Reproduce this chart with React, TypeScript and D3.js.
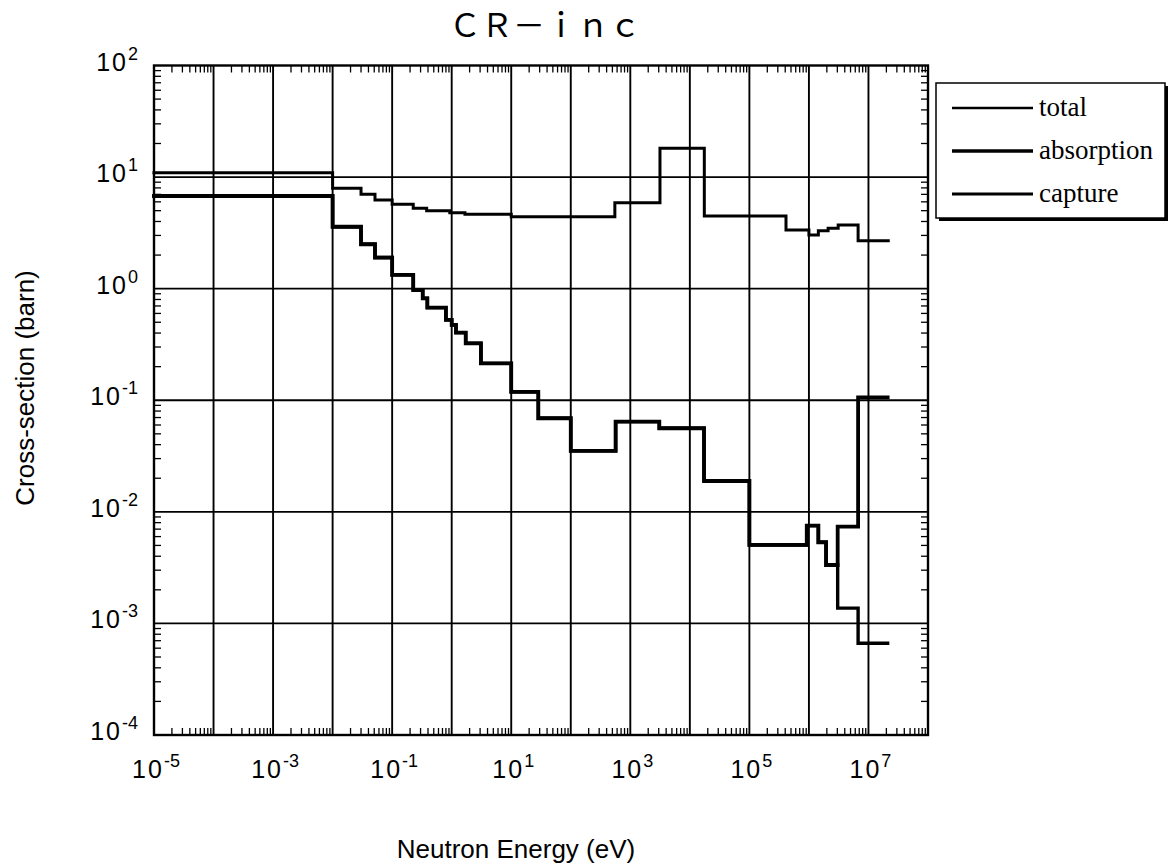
import React from 'react';
import * as d3 from 'd3';

// Group-wise cross sections (barn) as step functions over neutron energy (eV).
// Each series: bin edges (n+1) and the value held across each bin (n).
const totalEdges = [1e-5, 1e-2, 0.03, 0.0515, 0.1, 0.226, 0.38, 0.93, 1.67, 10, 550, 3150, 17500, 4.12e5, 1e6, 1.44e6, 2.1e6, 3.1e6, 6.7e6, 2.15e7];
const totalValues = [10.95, 7.94, 7.0, 6.23, 5.7, 5.25, 5.0, 4.8, 4.64, 4.42, 5.9, 18.1, 4.48, 3.36, 3.03, 3.31, 3.48, 3.72, 2.69];

const absorptionEdges = [1e-5, 1e-2, 0.03, 0.0515, 0.1, 0.226, 0.326, 0.39, 0.8, 1.0, 1.18, 1.72, 3.1, 10, 28.5, 100, 567, 3070, 17300, 1e5, 9.2e5, 1.44e6, 1.94e6, 3.04e6, 6.7e6, 2.1e7];
const absorptionValues = [6.77, 3.59, 2.5, 1.9, 1.33, 0.97, 0.82, 0.676, 0.525, 0.473, 0.404, 0.324, 0.214, 0.119, 0.069, 0.0352, 0.0643, 0.0561, 0.0189, 0.00505, 0.00752, 0.00534, 0.00334, 0.00736, 0.106];

const captureEdges = [1e-5, 1e-2, 0.03, 0.0515, 0.1, 0.226, 0.326, 0.39, 0.8, 1.0, 1.18, 1.72, 3.1, 10, 28.5, 100, 567, 3070, 17300, 1e5, 9.2e5, 1.44e6, 1.94e6, 3.04e6, 6.7e6, 2.1e7];
const captureValues = [6.77, 3.59, 2.5, 1.9, 1.33, 0.97, 0.82, 0.676, 0.525, 0.473, 0.404, 0.324, 0.214, 0.119, 0.069, 0.0352, 0.0643, 0.0561, 0.0189, 0.00505, 0.00752, 0.00534, 0.00334, 0.00137, 0.000665];

// Axis labels (powers of ten)
const xLabelExponents = [-5, -3, -1, 1, 3, 5, 7];
const yLabelExponents = [-4, -3, -2, -1, 0, 1, 2];

const legendItems = [
  { name: 'total', width: 2.4 },
  { name: 'absorption', width: 3.4 },
  { name: 'capture', width: 2.8 },
];

const W = 1170;
const H = 868;
const P = { left: 154, right: 928, top: 65.5, bottom: 735 };

function toSteps(edges: number[], values: number[]): [number, number][] {
  const pts: [number, number][] = values.map((v, i) => [edges[i], v]);
  pts.push([edges[edges.length - 1], values[values.length - 1]]);
  return pts;
}

export default function App() {
  const x = d3.scaleLog().domain([1e-5, 1e8]).range([P.left, P.right]);
  const y = d3.scaleLog().domain([1e-4, 1e2]).range([P.bottom, P.top]);

  const step = d3
    .line<[number, number]>()
    .x((d) => x(d[0]))
    .y((d) => y(d[1]))
    .curve(d3.curveStepAfter);

  const xDecades = d3.range(-4, 8).map((p) => Math.pow(10, p));
  const yDecades = d3.range(-3, 2).map((p) => Math.pow(10, p));

  const xMinor: number[] = [];
  d3.range(-5, 8).forEach((p) => {
    for (let m = 2; m <= 9; m++) xMinor.push(m * Math.pow(10, p));
  });
  const yMinor: number[] = [];
  d3.range(-4, 2).forEach((p) => {
    for (let m = 2; m <= 9; m++) yMinor.push(m * Math.pow(10, p));
  });

  const tickLen = 7;
  const sans = 'Liberation Sans, Arial, Helvetica, sans-serif';
  const serif = 'Liberation Serif, Times New Roman, serif';

  const lg = { x: 936, y: 83, w: 229, h: 135 };

  return (
    <svg
      width={W}
      height={H}
      viewBox={`0 0 ${W} ${H}`}
      style={{ position: 'absolute', left: 0, top: 0, background: '#fff' }}
    >
      <rect x={0} y={0} width={W} height={H} fill="#fff" />

      {/* title */}
      <text
        x={545}
        y={37}
        textAnchor="middle"
        fontFamily="Noto Sans CJK JP, sans-serif"
        fontSize={32}
        fill="#000"
      >
        ＣＲ－ｉｎｃ
      </text>

      {/* decade grid */}
      <g stroke="#000" strokeWidth={1.9}>
        {xDecades.map((d) => (
          <line key={`gx${d}`} x1={x(d)} x2={x(d)} y1={P.top} y2={P.bottom} />
        ))}
        {yDecades.map((d) => (
          <line key={`gy${d}`} x1={P.left} x2={P.right} y1={y(d)} y2={y(d)} />
        ))}
      </g>

      {/* minor ticks on all four sides */}
      <g stroke="#000" strokeWidth={1.3}>
        {xMinor.map((d) => (
          <g key={`mx${d}`}>
            <line x1={x(d)} x2={x(d)} y1={P.bottom} y2={P.bottom - tickLen} />
            <line x1={x(d)} x2={x(d)} y1={P.top} y2={P.top + tickLen} />
          </g>
        ))}
        {yMinor.map((d) => (
          <g key={`my${d}`}>
            <line x1={P.left} x2={P.left + tickLen} y1={y(d)} y2={y(d)} />
            <line x1={P.right} x2={P.right - tickLen} y1={y(d)} y2={y(d)} />
          </g>
        ))}
      </g>

      {/* data */}
      <g fill="none" stroke="#000" strokeLinejoin="miter" strokeLinecap="square">
        <path d={step(toSteps(captureEdges, captureValues)) || ''} strokeWidth={3.4} />
        <path d={step(toSteps(absorptionEdges, absorptionValues)) || ''} strokeWidth={3.8} />
        <path d={step(toSteps(totalEdges, totalValues)) || ''} strokeWidth={3.0} />
      </g>

      {/* frame */}
      <rect
        x={P.left}
        y={P.top}
        width={P.right - P.left}
        height={P.bottom - P.top}
        fill="none"
        stroke="#000"
        strokeWidth={2.4}
      />

      {/* x and y tick labels */}
      <g fontFamily={sans} fill="#000">
        {xLabelExponents.map((e) => (
          <text key={`xl${e}`} x={x(Math.pow(10, e)) + 2} y={778} textAnchor="middle" fontSize={25}>
            <tspan letterSpacing={2}>10</tspan>
            <tspan fontSize={18} dy={-11}>{e}</tspan>
          </text>
        ))}
        {yLabelExponents.map((e) => (
          <text key={`yl${e}`} x={138} y={y(Math.pow(10, e)) + 5} textAnchor="end" fontSize={25}>
            <tspan letterSpacing={2}>10</tspan>
            <tspan fontSize={18} dy={-11}>{e}</tspan>
          </text>
        ))}
      </g>

      {/* axis titles */}
      <text x={516} y={858} textAnchor="middle" fontFamily={sans} fontSize={26} fill="#000">
        Neutron Energy (eV)
      </text>
      <text
        transform="translate(34,388) rotate(-90)"
        textAnchor="middle"
        fontFamily={sans}
        fontSize={26}
        fill="#000"
      >
        Cross-section (barn)
      </text>

      {/* legend with drop shadow */}
      <rect x={lg.x + 3} y={lg.y + 3} width={lg.w} height={lg.h} fill="#000" />
      <rect x={lg.x} y={lg.y} width={lg.w} height={lg.h} fill="#fff" stroke="#000" strokeWidth={1.5} />
      {legendItems.map((it, i) => {
        const ly = 108 + i * 43;
        return (
          <g key={it.name}>
            <line x1={952} x2={1033} y1={ly} y2={ly} stroke="#000" strokeWidth={it.width} />
            <text x={1039} y={ly + 8} fontFamily={serif} fontSize={27} fill="#000">
              {it.name}
            </text>
          </g>
        );
      })}
    </svg>
  );
}
